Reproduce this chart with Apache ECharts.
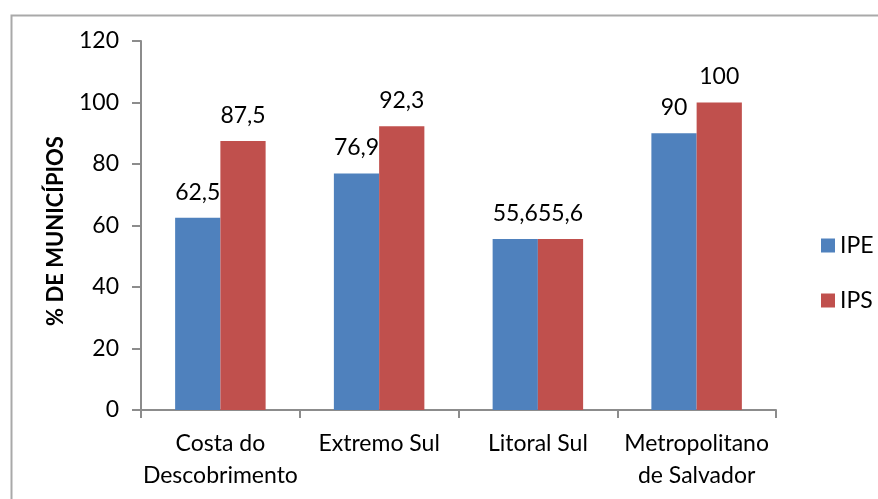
<!DOCTYPE html>
<html>
<head>
<meta charset="utf-8">
<script src="https://cdn.jsdelivr.net/npm/echarts@6/dist/echarts.min.js"></script>
<style>
html,body{margin:0;padding:0;background:#fff;}
#c{width:878px;height:499px;}
</style>
</head>
<body>
<div id="c"></div>
<script>
const categories = ['Costa do\nDescobrimento', 'Extremo Sul', 'Litoral Sul', 'Metropolitano\nde Salvador'];
const ipe = [62.5, 76.9, 55.6, 90];
const ips = [87.5, 92.3, 55.6, 100];
const yTicks = { min: 0, max: 120, interval: 20 };
const yTitle = '% DE MUNICÍPIOS';

const FONT = 'Lato';
const FS = 23;
const chart = echarts.init(document.getElementById('c'), null, { renderer: 'canvas' });
const fmt = p => String(p.value).replace('.', ',');
const axisColor = '#8c8c8c';

chart.setOption({
  backgroundColor: '#fff',
  animation: false,
  textStyle: { fontFamily: FONT },
  graphic: [{
    type: 'rect', left: 9, top: 13, silent: true,
    shape: { width: 900, height: 600 },
    style: { fill: 'none', stroke: '#a9a9a9', lineWidth: 2 }
  }, {
    type: 'text', x: 56, y: 231, rotation: Math.PI / 2, silent: true,
    style: { text: yTitle, fontFamily: FONT, fontSize: 22, fontWeight: 'bold', fill: '#000', align: 'center', verticalAlign: 'middle' }
  }],
  grid: { left: 141, right: 102, top: 41, bottom: 89, containLabel: false },
  legend: {
    orient: 'vertical', left: 816, top: 229,
    itemWidth: 14, itemHeight: 14, itemGap: 32,
    icon: 'rect',
    textStyle: { fontFamily: FONT, fontSize: FS, color: '#000' },
    data: ['IPE', 'IPS']
  },
  xAxis: {
    type: 'category', data: categories,
    axisLine: { lineStyle: { color: axisColor, width: 2 } },
    axisTick: { show: true, length: 8, alignWithLabel: false, lineStyle: { color: axisColor, width: 2 } },
    axisLabel: { fontFamily: FONT, fontSize: FS, color: '#000', margin: 18, lineHeight: 32, interval: 0 }
  },
  yAxis: {
    type: 'value', min: yTicks.min, max: yTicks.max, interval: yTicks.interval,
    axisLine: { show: true, lineStyle: { color: axisColor, width: 2 } },
    axisTick: { show: true, length: 9, lineStyle: { color: axisColor, width: 2 } },
    splitLine: { show: false },
    axisLabel: { fontFamily: FONT, fontSize: FS, color: '#000', margin: 22 }
  },
  series: [
    {
      name: 'IPE', type: 'bar', data: ipe, barGap: '0%', barCategoryGap: '43%',
      itemStyle: { color: '#4F81BD' },
      label: { show: true, position: 'top', distance: 14, formatter: fmt, fontFamily: FONT, fontSize: FS, color: '#000' }
    },
    {
      name: 'IPS', type: 'bar', data: ips, barGap: '0%', barCategoryGap: '43%',
      itemStyle: { color: '#C0504D' },
      label: { show: true, position: 'top', distance: 14, formatter: fmt, fontFamily: FONT, fontSize: FS, color: '#000' }
    }
  ]
});
</script>
</body>
</html>
